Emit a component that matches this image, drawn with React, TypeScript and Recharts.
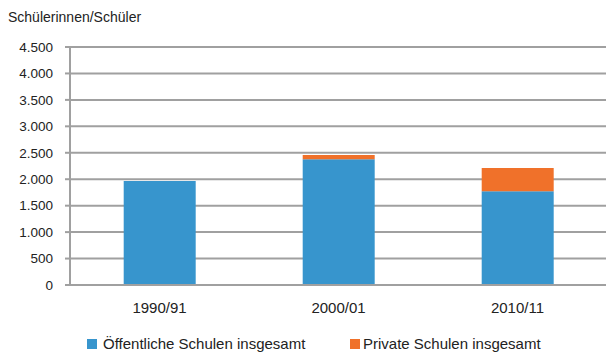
import { BarChart, Bar, XAxis, YAxis, CartesianGrid } from 'recharts';

const years = ['1990/91', '2000/01', '2010/11'];
const oeffentlich = [1965, 2377, 1772];
const privat = [0, 81, 440];
const yTicks = [0, 500, 1000, 1500, 2000, 2500, 3000, 3500, 4000, 4500];

const BLUE = '#3795cd';
const ORANGE = '#f0712a';
const GRID = '#a0a0a0';
const FONT = '"Liberation Sans", Arial, sans-serif';

const data = years.map((y, i) => ({ year: y, oeff: oeffentlich[i], priv: privat[i], idx: i }));

const fmt = (v: number) => String(v).replace(/\B(?=(\d{3})+(?!\d))/g, '.');

export default function App() {
  return (
    <div style={{ position: 'absolute', left: 0, top: 0, width: 606, height: 352, overflow: 'hidden', fontFamily: FONT, background: '#fff' }}>
      <div style={{ position: 'absolute', left: 8, top: 9, fontSize: 14, color: '#222' }}>Schülerinnen/Schüler</div>
      <BarChart
        width={607}
        height={352}
        data={data}
        margin={{ top: 47, right: 0, left: 0, bottom: 37 }}
        barCategoryGap="30%"
      >
        <CartesianGrid vertical={false} stroke={GRID} strokeWidth={2} />
        <XAxis
          xAxisId="b"
          type="number"
          dataKey="idx"
          domain={[0, 3]}
          ticks={[0, 1, 2, 3]}
          tick={false}
          axisLine={false}
          tickLine={{ stroke: GRID, strokeWidth: 2 }}
          tickSize={5}
          height={0}
          allowDataOverflow
        />
        <XAxis
          dataKey="year"
          axisLine={{ stroke: GRID, strokeWidth: 2 }}
          tickLine={false}
          tickSize={0}
          tickMargin={17}
          height={30}
          tick={{ fill: '#222', fontSize: 15, fontFamily: FONT }}
        />
        <YAxis
          domain={[0, 4500]}
          ticks={yTicks}
          tickFormatter={fmt}
          axisLine={{ stroke: GRID, strokeWidth: 2 }}
          tickLine={{ stroke: GRID, strokeWidth: 2 }}
          tickSize={5}
          tickMargin={12}
          width={70}
          interval={0}
          tick={{ fill: '#222', fontSize: 13.5, fontFamily: FONT }}
        />
        <Bar dataKey="oeff" stackId="a" fill={BLUE} isAnimationActive={false} />
        <Bar dataKey="priv" stackId="a" fill={ORANGE} isAnimationActive={false} />
      </BarChart>
      <div style={{ position: 'absolute', left: 87, top: 335, fontSize: 15, lineHeight: '17px', color: '#222', display: 'flex', alignItems: 'flex-start', whiteSpace: 'nowrap' }}>
        <span style={{ width: 10, height: 10, background: BLUE, marginTop: 4, marginRight: 6 }} />
        <span style={{ width: 247 }}>Öffentliche Schulen insgesamt</span>
        <span style={{ width: 10, height: 10, background: ORANGE, marginTop: 4, marginRight: 3 }} />
        <span>Private Schulen insgesamt</span>
      </div>
    </div>
  );
}
